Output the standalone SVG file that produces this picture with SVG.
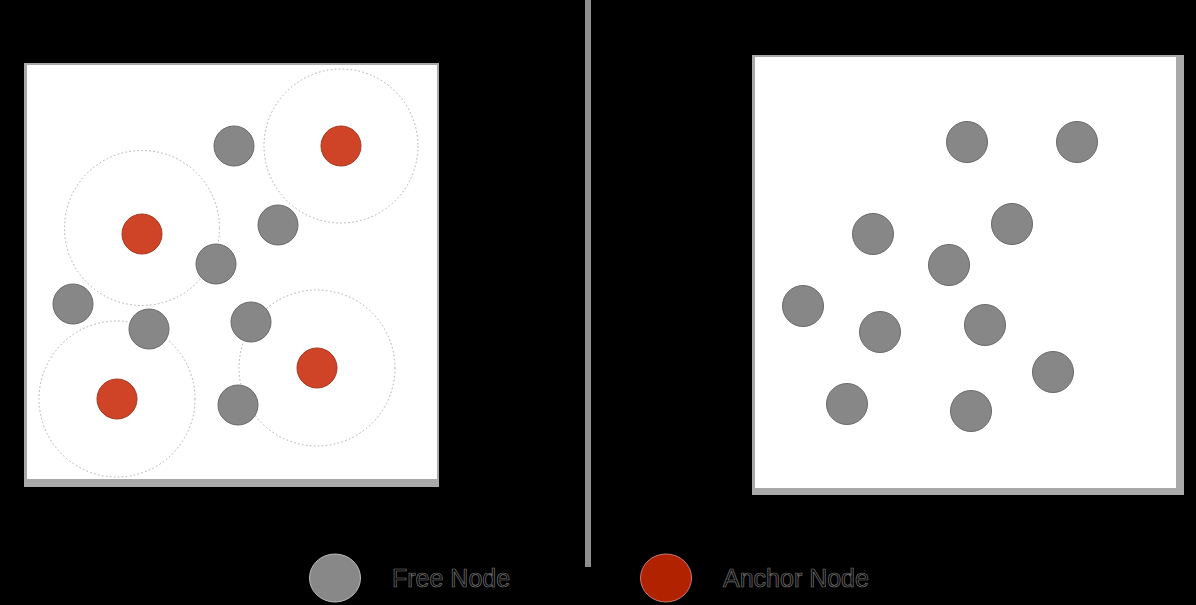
<svg xmlns="http://www.w3.org/2000/svg" width="1196" height="605" viewBox="0 0 1196 605">
<style>
.bg{fill:#000}
.frame{fill:#a9a9a9}
.panel{fill:#fff}
.free{fill:#878787;stroke:#6a6a6a;stroke-width:1}
.anchor{fill:#cf4326;stroke:#a33a22;stroke-width:1}
.range{fill:none;stroke:#a8a8a8;stroke-width:1;stroke-dasharray:1.5 2.5}
.lbl{font-family:"Liberation Sans",Arial,sans-serif;font-size:25px;fill:#050505;stroke:#777;stroke-width:0.7}
</style>
<rect class="bg" x="0" y="0" width="1196" height="605"/>
<line x1="588" y1="0" x2="588" y2="567" stroke="#8e8e8e" stroke-width="6"/>

<g id="left-panel">
<rect class="frame" x="24" y="63" width="415" height="424"/>
<rect class="panel" x="27" y="65" width="410" height="414"/>
<g id="ranges">
<circle class="range" cx="341" cy="146" r="77"/>
<circle class="range" cx="142" cy="228" r="77.5"/>
<circle class="range" cx="317" cy="368" r="78"/>
<circle class="range" cx="117" cy="399" r="78"/>
</g>
<g id="l-free1"><circle class="free" cx="234" cy="146" r="20"/></g>
<g id="l-free2"><circle class="free" cx="278" cy="225" r="20"/></g>
<g id="l-free3"><circle class="free" cx="216" cy="264" r="20"/></g>
<g id="l-free4"><circle class="free" cx="73" cy="304" r="20"/></g>
<g id="l-free5"><circle class="free" cx="149" cy="329" r="20"/></g>
<g id="l-free6"><circle class="free" cx="251" cy="322" r="20"/></g>
<g id="l-free7"><circle class="free" cx="238" cy="405" r="20"/></g>
<g id="l-anchor1"><circle class="anchor" cx="341" cy="146" r="20"/></g>
<g id="l-anchor2"><circle class="anchor" cx="142" cy="234" r="20"/></g>
<g id="l-anchor3"><circle class="anchor" cx="317" cy="368" r="20"/></g>
<g id="l-anchor4"><circle class="anchor" cx="117" cy="399" r="20"/></g>
</g>

<g id="right-panel">
<rect class="frame" x="752" y="55" width="432" height="440"/>
<rect class="panel" x="755" y="57" width="421" height="431"/>
<g id="r-free1"><circle class="free" cx="967" cy="142" r="20.5"/></g>
<g id="r-free2"><circle class="free" cx="1077" cy="142" r="20.5"/></g>
<g id="r-free3"><circle class="free" cx="873" cy="234" r="20.5"/></g>
<g id="r-free4"><circle class="free" cx="1012" cy="224" r="20.5"/></g>
<g id="r-free5"><circle class="free" cx="949" cy="265" r="20.5"/></g>
<g id="r-free6"><circle class="free" cx="803" cy="306" r="20.5"/></g>
<g id="r-free7"><circle class="free" cx="880" cy="332" r="20.5"/></g>
<g id="r-free8"><circle class="free" cx="985" cy="325" r="20.5"/></g>
<g id="r-free9"><circle class="free" cx="1053" cy="372" r="20.5"/></g>
<g id="r-free10"><circle class="free" cx="847" cy="404" r="20.5"/></g>
<g id="r-free11"><circle class="free" cx="971" cy="411" r="20.5"/></g>
</g>

<g id="legend-free">
<ellipse cx="335" cy="578" rx="25.5" ry="24" fill="#888" stroke="#bbb" stroke-width="1"/>
<text class="lbl" x="392" y="587">Free Node</text>
</g>
<g id="legend-anchor">
<ellipse cx="666" cy="578" rx="25.5" ry="24" fill="#b02200" stroke="#c77" stroke-width="1"/>
<text class="lbl" x="723" y="587">Anchor Node</text>
</g>
</svg>
